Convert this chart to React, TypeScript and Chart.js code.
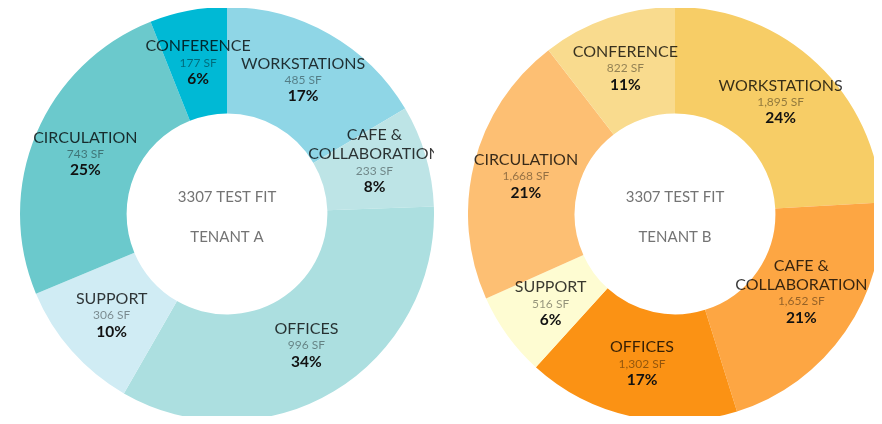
import React, { useEffect, useRef } from "react";
import { Chart, registerables } from "chart.js";

Chart.register(...registerables);

const categories = ["WORKSTATIONS", "CAFE &\nCOLLABORATION", "OFFICES", "SUPPORT", "CIRCULATION", "CONFERENCE"];

const tenantAValues = [485, 233, 996, 306, 743, 177];
const tenantAPercents = ["17%", "8%", "34%", "10%", "25%", "6%"];
const tenantAColors = ["#8fd6e6", "#bde4e6", "#acdfe0", "#d0ecf4", "#6bc9cc", "#00b9d5"];

const tenantBValues = [1895, 1652, 1302, 516, 1668, 822];
const tenantBPercents = ["24%", "21%", "17%", "6%", "21%", "11%"];
const tenantBColors = ["#f7cd66", "#fda643", "#fb9214", "#fefcd2", "#fdbf73", "#f9db8e"];

const FONT = "Lato, 'Open Sans', sans-serif";

function makeLabelPlugin(percents: string[], title: string, subtitle: string) {
  return {
    id: "segLabels",
    afterDatasetsDraw(chart: any) {
      const ctx = chart.ctx;
      const meta = chart.getDatasetMeta(0);
      const values = chart.data.datasets[0].data as number[];
      const labels = chart.data.labels as string[];
      ctx.save();
      ctx.textAlign = "center";
      ctx.textBaseline = "middle";
      meta.data.forEach((arc: any, i: number) => {
        const p = arc.getCenterPoint();
        const nameLines = labels[i].split("\n");
        ctx.font = `400 12px ${FONT}`;
        ctx.fillStyle = "rgba(0,0,0,0.42)";
        ctx.fillText(values[i].toLocaleString("en-US") + " SF", p.x, p.y);
        ctx.font = `700 15.5px ${FONT}`;
        ctx.fillStyle = "#111";
        ctx.fillText(percents[i], p.x, p.y + 16);
        ctx.font = `400 16px ${FONT}`;
        ctx.fillStyle = "rgba(0,0,0,0.78)";
        for (let k = nameLines.length - 1, j = 0; k >= 0; k--, j++) {
          ctx.fillText(nameLines[k], p.x, p.y - 17 - j * 19);
        }
      });
      const cx = (chart.chartArea.left + chart.chartArea.right) / 2;
      const cy = (chart.chartArea.top + chart.chartArea.bottom) / 2;
      ctx.font = `400 15px ${FONT}`;
      ctx.fillStyle = "#747474";
      ctx.fillText(title, cx, cy - 17);
      ctx.fillText(subtitle, cx, cy + 23);
      ctx.restore();
    },
  };
}

function Donut(props: { values: number[]; colors: string[]; percents: string[]; subtitle: string; left: number }) {
  const ref = useRef<HTMLCanvasElement>(null);
  useEffect(() => {
    if (!ref.current) return;
    const chart = new Chart(ref.current, {
      type: "doughnut",
      data: {
        labels: categories,
        datasets: [
          {
            data: props.values,
            backgroundColor: props.colors,
            borderWidth: 0,
          },
        ],
      },
      options: {
        responsive: false,
        maintainAspectRatio: false,
        animation: false,
        cutout: "48.5%",
        layout: { padding: 0 },
        plugins: { legend: { display: false }, tooltip: { enabled: false } },
      },
      plugins: [makeLabelPlugin(props.percents, "3307 TEST FIT", props.subtitle)],
    });
    return () => chart.destroy();
  }, []);
  return (
    <canvas
      ref={ref}
      width={414}
      height={414}
      style={{ position: "absolute", left: props.left, top: -1, width: 414, height: 414 }}
    />
  );
}

export default function App() {
  return (
    <div style={{ position: "relative", width: 866, height: 408 }}>
      <Donut values={tenantAValues} colors={tenantAColors} percents={tenantAPercents} subtitle="TENANT A" left={12} />
      <Donut values={tenantBValues} colors={tenantBColors} percents={tenantBPercents} subtitle="TENANT B" left={460} />
    </div>
  );
}
